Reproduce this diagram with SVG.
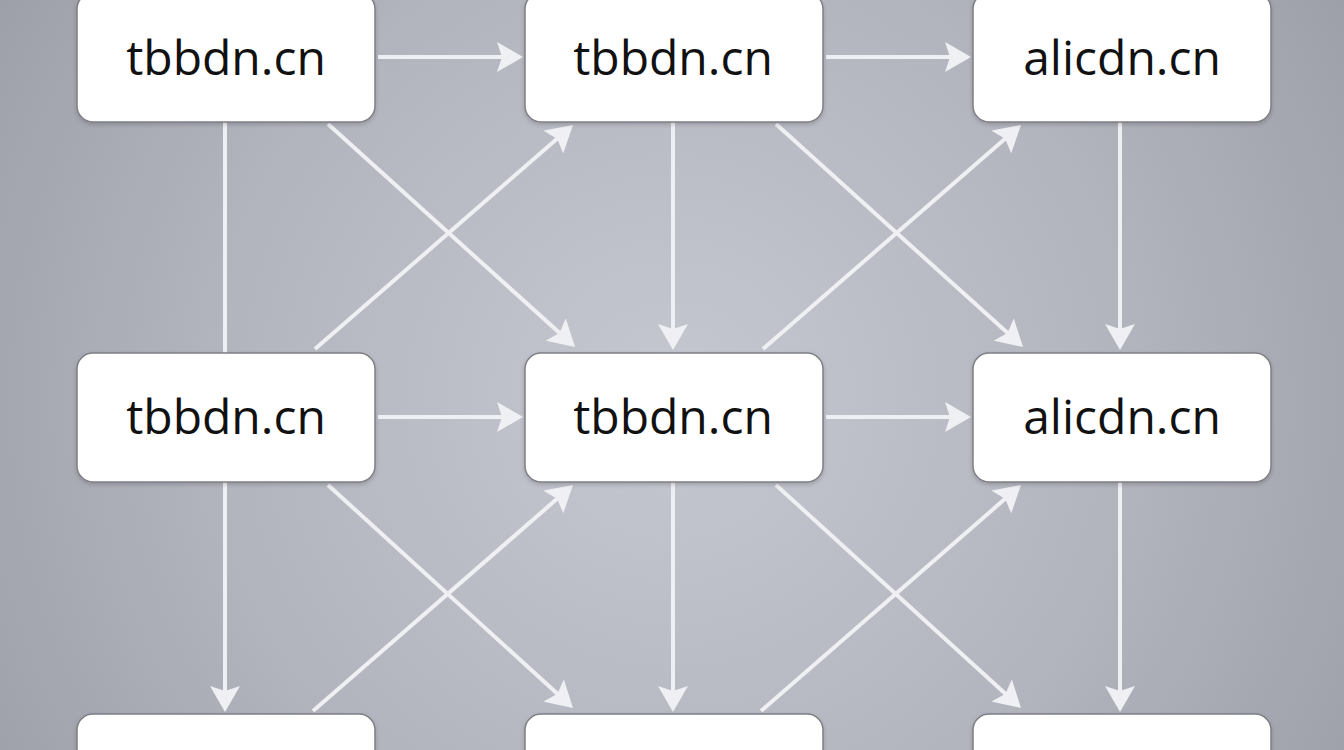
<svg xmlns="http://www.w3.org/2000/svg" width="1344" height="750" viewBox="0 0 1344 750">
<defs>
<radialGradient id="bg" cx="672" cy="400" r="820" gradientUnits="userSpaceOnUse">
<stop offset="0" stop-color="#c6c8d1"/>
<stop offset="0.55" stop-color="#b3b5be"/>
<stop offset="1" stop-color="#9c9ea7"/>
</radialGradient>
<filter id="sh" x="-10%" y="-10%" width="120%" height="130%">
<feDropShadow dx="0" dy="2" stdDeviation="2" flood-color="#000" flood-opacity="0.18"/>
</filter>
<marker id="ah" viewBox="0 0 26 30" refX="6" refY="15" markerWidth="26" markerHeight="30" markerUnits="userSpaceOnUse" orient="auto">
<path d="M0,0 L26,15 L0,30 L5,15 Z" fill="#eff0f4"/>
</marker>
</defs>
<style>
.box{fill:#ffffff;stroke:#7e7f85;stroke-width:1.5;filter:url(#sh)}
.lbl{font-family:"Open Sans","Noto Sans","DejaVu Sans",sans-serif;font-size:48px;fill:#111111;text-anchor:middle}
.ln{stroke:#eff0f4;stroke-width:4;fill:none}
.ar{marker-end:url(#ah)}
</style>
<rect x="0" y="0" width="1344" height="750" fill="url(#bg)"/>
<g id="connectors">
<line class="ln ar" x1="378" y1="57" x2="503" y2="57"/>
<line class="ln ar" x1="826" y1="57" x2="951" y2="57"/>
<line class="ln ar" x1="378" y1="417" x2="503" y2="417"/>
<line class="ln ar" x1="826" y1="417" x2="951" y2="417"/>
<line class="ln" x1="225" y1="122" x2="225" y2="353"/>
<line class="ln ar" x1="673" y1="122" x2="673" y2="330"/>
<line class="ln ar" x1="1120" y1="122" x2="1120" y2="330"/>
<line class="ln ar" x1="225" y1="482" x2="225" y2="692"/>
<line class="ln ar" x1="673" y1="482" x2="673" y2="692"/>
<line class="ln ar" x1="1120" y1="482" x2="1120" y2="692"/>
<line class="ln ar" x1="328" y1="124" x2="560.2" y2="333.6"/>
<line class="ln ar" x1="315" y1="349" x2="557.9" y2="138.1"/>
<line class="ln ar" x1="328" y1="485" x2="558.2" y2="694.5"/>
<line class="ln ar" x1="313" y1="711" x2="557.9" y2="498.1"/>
<line class="ln ar" x1="776" y1="124" x2="1008.2" y2="333.6"/>
<line class="ln ar" x1="763" y1="349" x2="1005.9" y2="138.1"/>
<line class="ln ar" x1="776" y1="485" x2="1006.2" y2="694.5"/>
<line class="ln ar" x1="761" y1="711" x2="1005.9" y2="498.1"/>
</g>
<g id="n11"><rect class="box" x="77" y="-7" width="298" height="129" rx="16"/><text class="lbl" x="226" y="75">tbbdn.cn</text></g>
<g id="n12"><rect class="box" x="525" y="-7" width="298" height="129" rx="16"/><text class="lbl" x="673" y="75">tbbdn.cn</text></g>
<g id="n13"><rect class="box" x="973" y="-7" width="298" height="129" rx="16"/><text class="lbl" x="1122" y="75">alicdn.cn</text></g>
<g id="n21"><rect class="box" x="77" y="353" width="298" height="129" rx="16"/><text class="lbl" x="226" y="434">tbbdn.cn</text></g>
<g id="n22"><rect class="box" x="525" y="353" width="298" height="129" rx="16"/><text class="lbl" x="673" y="434">tbbdn.cn</text></g>
<g id="n23"><rect class="box" x="973" y="353" width="298" height="129" rx="16"/><text class="lbl" x="1122" y="434">alicdn.cn</text></g>
<g id="n31"><rect class="box" x="77" y="714" width="298" height="129" rx="16"/></g>
<g id="n32"><rect class="box" x="525" y="714" width="298" height="129" rx="16"/></g>
<g id="n33"><rect class="box" x="973" y="714" width="298" height="129" rx="16"/></g>
</svg>
